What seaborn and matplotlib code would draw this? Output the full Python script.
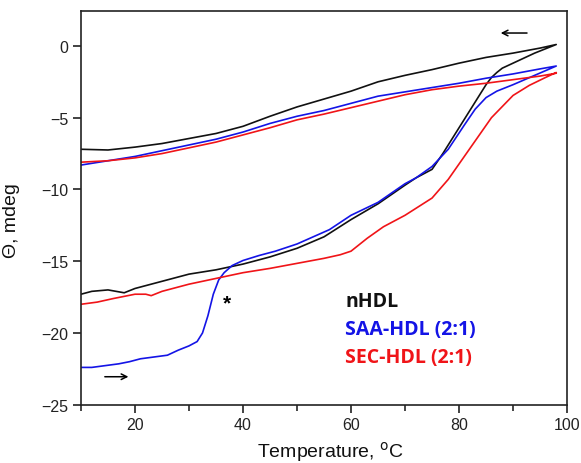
import matplotlib
matplotlib.use('Agg')
import matplotlib.pyplot as plt
import seaborn as sns
import pandas as pd
from matplotlib.ticker import MultipleLocator

# heating branches (10 -> 98 C)
nhdl_heat_t = [10, 12, 15, 18, 20, 25, 30, 35, 40, 45, 50, 55, 60, 65, 70, 72, 75, 77, 79, 81, 83, 85, 86, 87, 88,
               90, 94, 98]
nhdl_heat = [-17.3, -17.1, -17.0, -17.2, -16.9, -16.4, -15.9, -15.6, -15.2, -14.7, -14.1, -13.3, -12.1, -11.0, -9.7,
             -9.2, -8.6, -7.5, -6.3, -5.1, -3.9, -2.7, -2.2, -1.85, -1.55, -1.2, -0.5, 0.1]

saa_heat_t = [10, 12, 14, 17, 19, 21, 23, 26, 28, 30, 31.5, 32.5, 33.5, 34.5, 35.5, 36.5, 38, 40, 43, 46, 50, 53,
              56, 60, 65, 70, 72, 75, 78, 81, 83, 85, 87, 90, 94, 98]
saa_heat = [-22.4, -22.4, -22.3, -22.15, -22.0, -21.8, -21.7, -21.55, -21.2, -20.9, -20.6, -20.0, -18.8, -17.3,
            -16.3, -15.8, -15.3, -14.95, -14.6, -14.3, -13.8, -13.3, -12.8, -11.8, -10.9, -9.6, -9.2, -8.4, -7.2,
            -5.5, -4.4, -3.6, -3.15, -2.7, -2.05, -1.4]

sec_heat_t = [10, 13, 16, 20, 22, 23, 25, 30, 35, 40, 45, 50, 55, 58, 60, 63, 66, 70, 75, 78, 82, 86, 90, 93, 96, 98]
sec_heat = [-18.0, -17.85, -17.6, -17.3, -17.3, -17.4, -17.1, -16.6, -16.2, -15.8, -15.5, -15.15, -14.8, -14.55,
            -14.3, -13.4, -12.6, -11.8, -10.6, -9.3, -7.15, -5.0, -3.45, -2.75, -2.2, -1.85]

# cooling branches (98 -> 10 C), listed low to high temperature
cool_t = [10, 15, 20, 25, 30, 35, 40, 45, 50, 55, 60, 65, 70, 75, 80, 85, 90, 95, 98]
nhdl_cool = [-7.2, -7.25, -7.05, -6.8, -6.45, -6.1, -5.6, -4.9, -4.25, -3.7, -3.15, -2.5, -2.05, -1.65, -1.2,
             -0.8, -0.5, -0.15, 0.1]
saa_cool = [-8.3, -8.0, -7.7, -7.3, -6.9, -6.5, -6.0, -5.4, -4.9, -4.5, -4.0, -3.5, -3.2, -2.9, -2.6, -2.25,
            -1.95, -1.6, -1.4]
sec_cool = [-8.1, -8.0, -7.8, -7.5, -7.1, -6.7, -6.2, -5.7, -5.15, -4.75, -4.3, -3.85, -3.4, -3.05, -2.8, -2.6,
            -2.35, -2.1, -1.9]

samples = ['nHDL', 'SAA-HDL (2:1)', 'SEC-HDL (2:1)']
colors = ['#111111', '#1414e6', '#f01418']

rows = []
for name, ht, hv, cv in [(samples[0], nhdl_heat_t, nhdl_heat, nhdl_cool),
                         (samples[1], saa_heat_t, saa_heat, saa_cool),
                         (samples[2], sec_heat_t, sec_heat, sec_cool)]:
    for t, v in zip(ht, hv):
        rows.append({'sample': name, 'T': t, 'theta': v})
    for t, v in zip(cool_t[::-1], cv[::-1]):
        rows.append({'sample': name, 'T': t, 'theta': v})
df = pd.DataFrame(rows)

sns.set_style('white')
plt.rcParams['font.family'] = ['Liberation Sans', 'DejaVu Sans']

fig = plt.figure(figsize=(5.81, 4.64), dpi=100)
ax = fig.add_axes([0.1394, 0.1256, 0.8366, 0.8484])

for name, c in zip(samples, colors):
    sns.lineplot(data=df[df['sample'] == name], x='T', y='theta', sort=False, estimator=None,
                 color=c, lw=1.2, ax=ax)

ax.set_xlim(10, 100)
ax.set_ylim(-25, 2.43)
ax.set_xticks([20, 40, 60, 80, 100])
ax.xaxis.set_minor_locator(MultipleLocator(10))
ax.set_yticks([-25, -20, -15, -10, -5, 0])
ax.tick_params(axis='both', which='major', direction='out', length=5.5, width=1.2, labelsize=11.5,
               bottom=True, left=True, top=False, right=False, colors='#222222')
ax.tick_params(axis='x', which='minor', direction='out', length=4, width=1.2, bottom=True)
for s in ax.spines.values():
    s.set_color('#222222')
    s.set_linewidth(1.2)

ax.set_xlabel('Temperature, $^{\\mathrm{o}}$C', fontsize=14, color='#111111')
ax.set_ylabel('Θ, mdeg', fontsize=14, color='#111111')
ax.xaxis.set_label_coords(0.514, -0.088)
ax.yaxis.set_label_coords(-0.125, 0.47)

# heating / cooling direction arrows
ax.annotate('', xy=(19.3, -23.05), xytext=(13.9, -23.05),
            arrowprops=dict(arrowstyle='->', color='black', lw=1.1))
ax.annotate('', xy=(87.2, 0.9), xytext=(93.1, 0.9),
            arrowprops=dict(arrowstyle='->', color='black', lw=1.1))
ax.text(37.0, -17.9, '*', fontsize=15, fontweight='bold', ha='center', va='center', color='black')

for i, (name, c) in enumerate(zip(samples, colors)):
    ax.text(58.9, -17.75 - 1.95 * i, name, color=c, fontsize=14, fontweight='bold',
            family=['Open Sans', 'DejaVu Sans'], ha='left', va='center')

ax.set_facecolor('white')
fig.savefig('out.png', dpi=100)
